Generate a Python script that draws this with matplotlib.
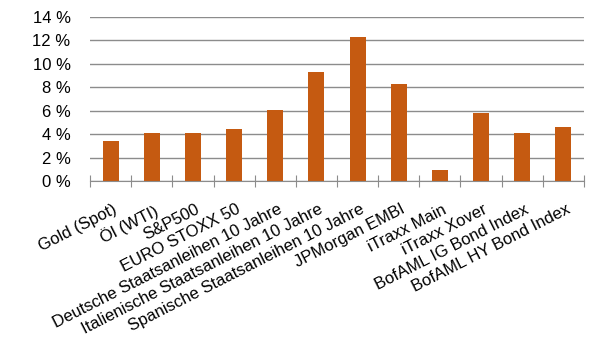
import numpy as np
import matplotlib.pyplot as plt

plt.rcParams["font.family"] = ["Liberation Sans", "DejaVu Sans"]

categories = [
    "Gold (Spot)", "Öl (WTI)", "S&P500", "EURO STOXX 50",
    "Deutsche Staatsanleihen 10 Jahre", "Italienische Staatsanleihen 10 Jahre",
    "Spanische Staatsanleihen 10 Jahre", "JPMorgan EMBI", "iTraxx Main",
    "iTraxx Xover", "BofAML IG Bond Index", "BofAML HY Bond Index",
]
values = [3.4, 4.1, 4.1, 4.45, 6.05, 9.3, 12.3, 8.3, 0.95, 5.8, 4.1, 4.6]
yticks = [0, 2, 4, 6, 8, 10, 12, 14]

fig = plt.figure(figsize=(6.02, 3.56), dpi=100)
ax = fig.add_axes([90 / 602, 1 - 181 / 356, 494 / 602, 164 / 356])

x = np.arange(len(categories))
ax.bar(x, values, width=0.39, color="#C55A11", zorder=3)

ax.set_xlim(-0.5, len(categories) - 0.5)
ax.set_ylim(0, 14)
ax.set_yticks(yticks)
ax.set_yticklabels([f"{t} %" for t in yticks], fontsize=12)
ax.yaxis.grid(True, color="#8c8c8c", linewidth=1, zorder=0)
ax.tick_params(axis="y", length=0, pad=14)

# ticks sit on category boundaries, labels at bar centres
ax.set_xticks(np.arange(len(categories) + 1) - 0.5)
ax.set_xticklabels([])
ax.set_xticks(x + 0.05, minor=True)
ax.set_xticklabels(categories, minor=True, rotation=27, ha="right",
                   rotation_mode="anchor", fontsize=12)
ax.tick_params(axis="x", which="major", direction="inout", length=8,
               color="#8c8c8c")
ax.tick_params(axis="x", which="minor", length=0, pad=15)

for s in ["top", "right", "left"]:
    ax.spines[s].set_visible(False)
ax.spines["bottom"].set_color("#8c8c8c")
ax.spines["bottom"].set_zorder(4)

fig.savefig("out.png", dpi=100)
